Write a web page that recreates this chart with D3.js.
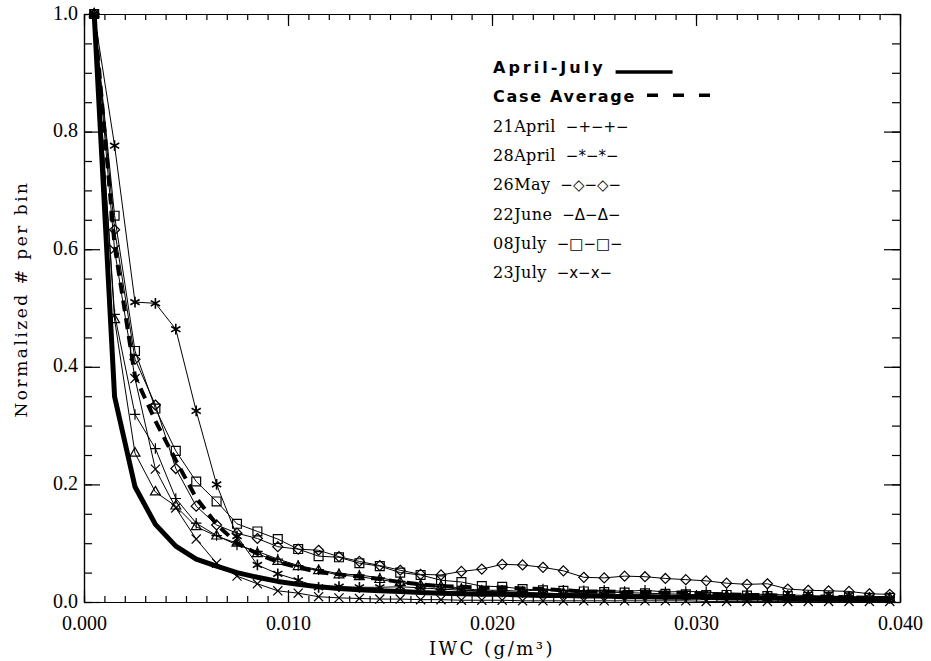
<!DOCTYPE html>
<html>
<head>
<meta charset="utf-8">
<script src="https://cdn.jsdelivr.net/npm/d3@7"></script>
<style>
  body { margin: 0; background: #fff; }
  svg { display: block; }
</style>
</head>
<body>
<svg id="vis"></svg>
<script>
const width = 931;
const height = 661;
const margin = { top: 14, bottom: 59, left: 84, right: 31 };

// bin centres (g/m^3)
const iwc = [0.0005, 0.0015, 0.0025, 0.0035, 0.0045, 0.0055, 0.0065, 0.0075, 0.0085, 0.0095,
             0.0105, 0.0115, 0.0125, 0.0135, 0.0145, 0.0155, 0.0165, 0.0175, 0.0185, 0.0195,
             0.0205, 0.0215, 0.0225, 0.0235, 0.0245, 0.0255, 0.0265, 0.0275, 0.0285, 0.0295,
             0.0305, 0.0315, 0.0325, 0.0335, 0.0345, 0.0355, 0.0365, 0.0375, 0.0385, 0.0395];

const aprilJuly = [1.0, 0.349, 0.196, 0.132, 0.095, 0.073, 0.061, 0.050, 0.042, 0.035,
                   0.030, 0.026, 0.023, 0.021, 0.019, 0.018, 0.016, 0.015, 0.014, 0.013,
                   0.013, 0.012, 0.011, 0.011, 0.010, 0.010, 0.009, 0.009, 0.008, 0.008,
                   0.008, 0.007, 0.007, 0.007, 0.006, 0.006, 0.006, 0.005, 0.005, 0.005];

const caseAverage = [1.0, 0.606, 0.384, 0.308, 0.241, 0.177, 0.132, 0.100, 0.082, 0.068,
                     0.059, 0.051, 0.047, 0.043, 0.039, 0.034, 0.030, 0.027, 0.026, 0.024,
                     0.025, 0.023, 0.022, 0.020, 0.018, 0.018, 0.017, 0.017, 0.016, 0.016,
                     0.014, 0.013, 0.012, 0.012, 0.010, 0.010, 0.009, 0.008, 0.007, 0.007];

const april21 = [1.0, 0.489, 0.319, 0.261, 0.176, 0.134, 0.113, 0.097, 0.086, 0.073,
                 0.062, 0.055, 0.048, 0.046, 0.041, 0.035, 0.030, 0.029, 0.023, 0.020,
                 0.020, 0.018, 0.022, 0.020, 0.019, 0.020, 0.018, 0.020, 0.017, 0.018,
                 0.017, 0.014, 0.013, 0.013, 0.012, 0.011, 0.010, 0.009, 0.008, 0.008];

const april28 = [1.0, 0.776, 0.510, 0.508, 0.464, 0.325, 0.200, 0.112, 0.063, 0.048,
                 0.037, 0.025, 0.026, 0.025, 0.025, 0.026, 0.024, 0.022, 0.020, 0.018,
                 0.017, 0.016, 0.015, 0.014, 0.014, 0.013, 0.012, 0.012, 0.011, 0.011,
                 0.010, 0.010, 0.009, 0.009, 0.008, 0.008, 0.007, 0.007, 0.006, 0.006];

const may26 = [1.0, 0.633, 0.413, 0.335, 0.227, 0.163, 0.131, 0.117, 0.108, 0.094,
               0.090, 0.088, 0.077, 0.069, 0.062, 0.054, 0.047, 0.046, 0.052, 0.056,
               0.064, 0.063, 0.059, 0.053, 0.042, 0.041, 0.044, 0.043, 0.040, 0.038,
               0.036, 0.032, 0.030, 0.031, 0.022, 0.020, 0.019, 0.018, 0.014, 0.013];

const june22 = [1.0, 0.480, 0.253, 0.187, 0.163, 0.128, 0.112, 0.100, 0.082, 0.069,
                0.060, 0.053, 0.046, 0.043, 0.038, 0.033, 0.028, 0.026, 0.021, 0.018,
                0.017, 0.016, 0.015, 0.014, 0.013, 0.013, 0.012, 0.012, 0.011, 0.011,
                0.010, 0.010, 0.009, 0.009, 0.008, 0.008, 0.007, 0.007, 0.006, 0.006];

const july08 = [1.0, 0.657, 0.427, 0.329, 0.257, 0.205, 0.171, 0.133, 0.120, 0.107,
                0.090, 0.078, 0.076, 0.066, 0.061, 0.050, 0.046, 0.037, 0.034, 0.027,
                0.026, 0.022, 0.020, 0.019, 0.018, 0.017, 0.016, 0.015, 0.014, 0.013,
                0.012, 0.012, 0.011, 0.010, 0.010, 0.009, 0.009, 0.008, 0.007, 0.007];

const july23 = [1.0, 0.599, 0.380, 0.226, 0.160, 0.107, 0.066, 0.044, 0.031, 0.019,
                0.015, 0.009, 0.007, 0.006, 0.005, 0.005, 0.004, 0.004, 0.003, 0.003,
                0.003, 0.002, 0.002, 0.002, 0.002, 0.002, 0.002, 0.002, 0.002, 0.002,
                0.001, 0.001, 0.001, 0.001, 0.001, 0.001, 0.001, 0.001, 0.001, 0.001];

const cases = ["21April", "28April", "26May", "22June", "08July", "23July"];
const caseValues = [april21, april28, may26, june22, july08, july23];

const xTicks = [0.000, 0.010, 0.020, 0.030, 0.040];
const yTicks = [0.0, 0.2, 0.4, 0.6, 0.8, 1.0];

const legendLabels = ["April-July", "Case Average", "21April", "28April", "26May", "22June", "08July", "23July"];
const legendKeys = ["", "", "\u2212+\u2212+\u2212", "\u2212*\u2212*\u2212", "\u2212\u25C7\u2212\u25C7\u2212",
                    "\u2212\u0394\u2212\u0394\u2212", "\u2212\u25A1\u2212\u25A1\u2212", "\u2212x\u2212x\u2212"];

const plotW = width - margin.left - margin.right;
const plotH = height - margin.top - margin.bottom;

const svg = d3.select("svg#vis");
svg.attr("width", width);
svg.attr("height", height);

const plot = svg.append("g").attr("id", "plot");
plot.attr("transform", translate(margin.left, margin.top));

const x = d3.scaleLinear().domain([0, 0.04]).range([0, plotW]);
const y = d3.scaleLinear().domain([0, 1]).range([plotH, 0]);

const tickFont = "'Liberation Serif', 'DejaVu Serif', serif";

// minor ticks every 0.001 on x, 0.05 on y
const xMinor = d3.range(0, 41).map(d => d / 1000);
const yMinor = d3.range(0, 21).map(d => d / 20);

function styleAxis(g) {
  g.select(".domain").attr("stroke", "#000").attr("stroke-width", 1.2);
  g.selectAll(".tick line").attr("stroke", "#000").attr("stroke-width", 1.2);
}

// bottom
plot.append("g").attr("transform", translate(0, plotH))
  .call(d3.axisBottom(x).tickValues(xMinor).tickSize(-6).tickSizeOuter(0).tickFormat(""))
  .call(styleAxis);
plot.append("g").attr("transform", translate(0, plotH))
  .call(d3.axisBottom(x).tickValues(xTicks).tickSize(-12).tickSizeOuter(0)
    .tickPadding(14).tickFormat(d3.format(".3f")))
  .call(styleAxis)
  .call(g => g.selectAll("text").attr("font-family", tickFont).attr("font-size", 20).attr("fill", "#000"));
// top
plot.append("g")
  .call(d3.axisTop(x).tickValues(xMinor).tickSize(-6).tickSizeOuter(0).tickFormat(""))
  .call(styleAxis);
plot.append("g")
  .call(d3.axisTop(x).tickValues(xTicks).tickSize(-12).tickSizeOuter(0).tickFormat(""))
  .call(styleAxis);
// left
plot.append("g")
  .call(d3.axisLeft(y).tickValues(yMinor).tickSize(-8).tickSizeOuter(0).tickFormat(""))
  .call(styleAxis);
plot.append("g")
  .call(d3.axisLeft(y).tickValues(yTicks).tickSize(-16).tickSizeOuter(0)
    .tickPadding(6).tickFormat(d3.format(".1f")))
  .call(styleAxis)
  .call(g => g.selectAll("text").attr("font-family", tickFont).attr("font-size", 20)
    .attr("dy", "0.25em").attr("fill", "#000"));
// right
plot.append("g").attr("transform", translate(plotW, 0))
  .call(d3.axisRight(y).tickValues(yMinor).tickSize(-8).tickSizeOuter(0).tickFormat(""))
  .call(styleAxis);
plot.append("g").attr("transform", translate(plotW, 0))
  .call(d3.axisRight(y).tickValues(yTicks).tickSize(-16).tickSizeOuter(0).tickFormat(""))
  .call(styleAxis);

// axis titles
svg.append("text")
  .attr("x", margin.left + plotW / 2)
  .attr("y", 655)
  .attr("text-anchor", "middle")
  .attr("font-family", "'DejaVu Serif', serif")
  .attr("font-size", 18)
  .attr("letter-spacing", 2.5)
  .text("IWC (g/m\u00B3)");

svg.append("text")
  .attr("transform", translate(27, 299) + " rotate(-90)")
  .attr("text-anchor", "middle")
  .attr("font-family", "'DejaVu Serif', serif")
  .attr("font-size", 17)
  .attr("letter-spacing", 2.5)
  .text("Normalized # per bin");

// lines
const line = d3.line()
  .x((d, i) => x(iwc[i]))
  .y(d => y(d));

const symbols = [d3.symbolPlus, d3.symbolAsterisk, d3.symbolDiamond2, d3.symbolTriangle2, d3.symbolSquare2, d3.symbolX];
const symbolSizes = [38, 80, 64, 70, 100, 56];
const symbolWidths = [1.2, 1.6, 1.2, 1.2, 1.2, 1.2];

const lines = plot.append("g").attr("id", "lines");

caseValues.forEach(function(vals, k) {
  lines.append("path")
    .attr("d", line(vals))
    .attr("fill", "none")
    .attr("stroke", "#000")
    .attr("stroke-width", 1);

  lines.selectAll(".m" + k)
    .data(vals)
    .enter()
    .append("path")
    .attr("class", "m" + k)
    .attr("transform", (d, i) => translate(x(iwc[i]), y(d)))
    .attr("d", d3.symbol().type(symbols[k]).size(symbolSizes[k]))
    .attr("fill", "none")
    .attr("stroke", "#000")
    .attr("stroke-width", symbolWidths[k]);
});

lines.append("path")
  .attr("d", line(caseAverage))
  .attr("fill", "none")
  .attr("stroke", "#000")
  .attr("stroke-width", 4)
  .attr("stroke-dasharray", "11,7");

lines.append("path")
  .attr("d", line(aprilJuly))
  .attr("fill", "none")
  .attr("stroke", "#000")
  .attr("stroke-width", 5)
  .attr("stroke-linejoin", "round");

// legend
const legend = svg.append("g").attr("transform", translate(493, 73));
const labelSpacing = [3, 1.7, 0.4, 0.4, 0.4, 0.4, 0.4, 0.4];

legend.selectAll("text.label")
  .data(legendLabels)
  .enter()
  .append("text")
  .attr("class", "label")
  .attr("x", 0)
  .attr("y", (d, i) => i * 29.3)
  .attr("font-family", (d, i) => i < 2 ? "'DejaVu Sans', sans-serif" : "'DejaVu Serif', serif")
  .attr("font-weight", (d, i) => i < 2 ? "bold" : "normal")
  .attr("font-size", 16)
  .attr("letter-spacing", (d, i) => labelSpacing[i])
  .text(d => d);

legend.selectAll("text.key")
  .data(legendKeys)
  .enter()
  .append("text")
  .attr("class", "key")
  .attr("x", function(d, i) {
    return this.parentNode.querySelectorAll("text.label")[i].getComputedTextLength() + 10;
  })
  .attr("y", (d, i) => i * 29.3)
  .attr("font-family", "'DejaVu Sans', sans-serif")
  .attr("font-size", 15)
  .text(d => d);

const labelNodes = legend.selectAll("text.label").nodes();
const ajEnd = labelNodes[0].getBBox().width;
const caEnd = labelNodes[1].getBBox().width;

legend.append("line")
  .attr("x1", ajEnd + 10).attr("x2", ajEnd + 67)
  .attr("y1", -1).attr("y2", -1)
  .attr("stroke", "#000").attr("stroke-width", 3.5);

legend.append("line")
  .attr("x1", caEnd + 11).attr("x2", caEnd + 77)
  .attr("y1", 29.3 - 7).attr("y2", 29.3 - 7)
  .attr("stroke", "#000").attr("stroke-width", 3.5)
  .attr("stroke-dasharray", "11,15");

function translate(x, y) {
  return "translate(" + String(x) + "," + String(y) + ")";
}
</script>
</body>
</html>
